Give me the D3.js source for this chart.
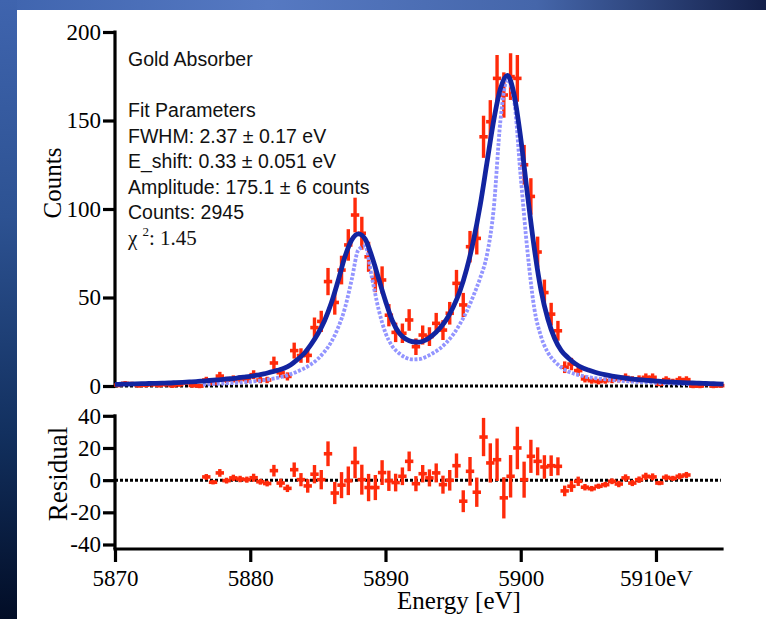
<!DOCTYPE html>
<html><head><meta charset="utf-8">
<script src="https://cdn.jsdelivr.net/npm/d3@7"></script>
<style>html,body{margin:0;padding:0;background:#fff;overflow:hidden} svg{display:block}
.tick text{font-family:'Liberation Serif','Times New Roman',serif !important;}</style>
</head><body><svg id="c" width="766" height="619"></svg>
<script>
// ---------- DATA ----------
const energy = [5870.25,5870.75,5871.25,5871.75,5872.25,5872.75,5873.25,5873.75,5874.25,5874.75,
5875.25,5875.75,5876.25,5876.75,5877.25,5877.75,5878.25,5878.75,5879.25,5879.75,
5880.25,5880.75,5881.25,5881.75,5882.25,5882.75,5883.25,5883.75,5884.25,5884.75,
5885.25,5885.75,5886.25,5886.75,5887.25,5887.75,5888.25,5888.75,5889.25,5889.75,
5890.25,5890.75,5891.25,5891.75,5892.25,5892.75,5893.25,5893.75,5894.25,5894.75,
5895.25,5895.75,5896.25,5896.75,5897.25,5897.75,5898.25,5898.75,5899.25,5899.75,
5900.25,5900.75,5901.25,5901.75,5902.25,5902.75,5903.25,5903.75,5904.25,5904.75,
5905.25,5905.75,5906.25,5906.75,5907.25,5907.75,5908.25,5908.75,5909.25,5909.75,
5910.25,5910.75,5911.25,5911.75,5912.25,5912.75,5913.25,5913.75,5914.25,5914.75];

const counts = [0.5,1.5,1.2,0.3,0.5,0.9,0.4,0.9,0.2,0.8,
2.0,0.3,0.0,3.4,1.5,5.6,3.4,4.0,4.0,3.6,
6.4,3.4,3.4,13.0,7.5,5.4,20.0,17.2,17.3,33.0,
36.5,59.0,47.2,65.5,79.7,96.6,86.3,73.0,60.8,59.9,
40.0,30.3,29.8,37.3,22.2,28.8,27.9,35.4,31.6,41.1,
58.0,45.8,78.7,83.4,140.8,149.3,173.8,164.4,174.8,173.8,
125.0,107.1,75.7,52.8,40.6,31.2,10.6,12.4,8.7,4.0,
3.0,2.5,3.0,3.4,4.0,4.9,3.6,4.0,4.9,4.9,
1.1,3.6,2.5,3.6,3.6,0.0,0.0,1.1,0.0,0.2];

const errors = [0.7,1.2,1.1,0.6,0.7,0.9,0.6,0.9,0.5,0.9,
1.4,0.6,0.5,1.8,1.2,2.4,1.8,2.0,2.0,1.9,
2.5,1.8,1.8,3.6,2.7,2.3,4.5,4.1,4.2,5.7,
6.0,7.7,6.9,8.1,8.9,9.8,9.3,8.5,7.8,7.7,
6.3,5.5,5.5,6.1,4.7,5.4,5.3,5.9,5.6,6.4,
7.6,6.8,8.9,9.1,11.9,12.2,13.2,12.8,13.2,13.2,
11.2,10.3,8.7,7.3,6.4,5.6,3.3,3.5,2.9,2.0,
1.7,1.6,1.7,1.8,2.0,2.2,1.9,2.0,2.2,2.2,
1.0,1.9,1.6,1.9,1.9,0.5,0.5,1.0,0.5,0.5];

// residuals for bins 5876.75 ... 5912.25
const residual = [2.0,-1.3,4.5,-0.3,1.4,0.7,0.3,
1.5,-1.0,-2.1,5.9,-1.8,-5.1,6.5,0.3,-3.6,3.7,
0.3,16.4,-8.0,-3.1,-0.4,11.0,0.3,-4.6,-4.6,4.7,
-0.4,-1.5,2.4,11.7,-2.2,4.0,1.4,4.5,-2.8,-0.1,
9.0,-13.1,5.5,-7.5,26.8,10.7,12.7,-11.0,2.4,20.0,
0.3,14.8,11.7,8.2,9.0,8.6,-6.7,-3.8,-0.7,-4.4,
-5.3,-3.8,-2.8,-0.7,-2.4,1.4,-1.8,0.3,2.4,2.0,
-1.8,1.7,1.1,2.4,3.2];
const residualFirst = 13; // index into energy of first residual bin

const fitEnergy = [5870,5870.5,5871,5871.5,5872,5872.5,5873,5873.5,5874,5874.5,
5875,5875.5,5876,5876.5,5877,5877.5,5878,5878.5,5879,5879.5,
5880,5880.5,5881,5881.5,5882,5882.5,5883,5883.5,5884,5884.5,
5885,5885.5,5886,5886.5,5887,5887.5,5888,5888.5,5889,5889.5,
5890,5890.5,5891,5891.5,5892,5892.5,5893,5893.5,5894,5894.5,
5895,5895.5,5896,5896.5,5897,5897.5,5898,5898.5,5899,5899.5,
5900,5900.5,5901,5901.5,5902,5902.5,5903,5903.5,5904,5904.5,
5905,5905.5,5906,5906.5,5907,5907.5,5908,5908.5,5909,5909.5,
5910,5910.5,5911,5911.5,5912,5912.5,5913,5913.5,5914,5914.5,5915];
const fitCounts = [0.9,1.0,1.1,1.2,1.3,1.4,1.5,1.6,1.7,1.9,
2.1,2.3,2.5,2.8,3.1,3.4,3.7,4.1,4.5,5.0,
5.5,6.1,6.8,7.8,8.8,10.0,12.0,15.0,18.5,23.5,
29.5,37.0,47.0,59.5,73.0,82.5,86.0,83.0,73.0,60.5,
48.0,37.0,30.0,26.5,25.0,24.8,26.0,28.7,32.5,37.5,
44.5,53.5,66.0,82.0,102.0,126.0,150.0,168.0,175.5,165.0,
140.0,108.0,78.0,54.0,38.0,27.0,20.0,16.0,12.8,10.5,
9.0,7.8,6.8,6.0,5.3,4.7,4.2,3.8,3.4,3.1,
2.8,2.5,2.3,2.1,1.9,1.75,1.6,1.45,1.35,1.2,1.1];

const modelEnergy = [5876.5,5877,5877.5,5878,5878.5,5879,5879.5,
5880,5880.5,5881,5881.5,5882,5882.5,5883,5883.5,5884,5884.5,
5885,5885.5,5886,5886.5,5887,5887.5,5888,5888.5,5889,5889.5,
5890,5890.5,5891,5891.5,5892,5892.5,5893,5893.5,5894,5894.5,
5895,5895.5,5896,5896.5,5897,5897.5,5898,5898.5,5899,5899.5,
5900,5900.5,5901,5901.5,5902,5902.5,5903,5903.5,5904,5904.5,
5905,5905.5,5906,5906.5,5907,5907.5,5908,5908.5,5909,5909.5,
5910,5910.5,5911,5911.5,5912,5912.5];
const modelCounts = [0.8,1.0,1.2,1.4,1.6,1.8,2.1,
2.4,2.8,3.3,3.9,4.6,5.5,6.7,8.2,10.0,12.3,
15.3,19.5,25.0,33.0,44.0,60.0,77.0,79.0,61.0,43.0,
30.0,22.5,18.5,16.0,15.0,15.2,16.5,18.5,21.0,24.5,
29.0,35.0,42.0,51.0,61.0,74.0,100.0,150.0,173.0,162.0,
118.0,76.0,44.0,28.0,19.0,14.0,10.5,8.2,6.8,5.8,
5.0,4.4,4.0,3.6,3.2,2.9,2.6,2.4,2.2,2.0,
1.8,1.6,1.5,1.3,1.2,1.1];

const countTicks = [0,50,100,150,200];
const residualTicks = [-40,-20,0,20,40];
const residualTickLabels = ["-40","-20","0","20","40"];
const energyTicks = [5870,5880,5890,5900,5910];
const energyTickLabels = ["5870","5880","5890","5900","5910eV"];
const annotationLines = ["Gold Absorber","","Fit Parameters","FWHM: 2.37 \u00b1 0.17 eV",
  "E_shift: 0.33 \u00b1 0.051 eV","Amplitude: 175.1 \u00b1 6 counts","Counts: 2945"];
const chiSquare = "1.45";

// ---------- DRAW ----------
const svg = d3.select("#c");
const defs = svg.append("defs");
const gTop = defs.append("linearGradient").attr("id","gtop").attr("x1","0").attr("x2","1").attr("y1","0").attr("y2","0");
[["0","#3f64ae"],["0.35","#5679c2"],["0.7","#4566aa"],["1","#14204a"]].forEach(s=>gTop.append("stop").attr("offset",s[0]).attr("stop-color",s[1]));
const gLeft = defs.append("linearGradient").attr("id","gleft").attr("x1","0").attr("x2","0").attr("y1","0").attr("y2","1");
[["0","#3f64ae"],["0.35","#2d5292"],["0.7","#12305f"],["1","#020d26"]].forEach(s=>gLeft.append("stop").attr("offset",s[0]).attr("stop-color",s[1]));

svg.append("rect").attr("x",0).attr("y",0).attr("width",766).attr("height",619).attr("fill","#fff");
svg.append("rect").attr("x",0).attr("y",0).attr("width",766).attr("height",10).attr("fill","url(#gtop)");
svg.append("rect").attr("x",0).attr("y",0).attr("width",17).attr("height",619).attr("fill","url(#gleft)");

const x = d3.scaleLinear().domain([5870,5915]).range([115,723.6]);
const yC = d3.scaleLinear().domain([0,200]).range([386,32]);
const yR = d3.scaleLinear().domain([-40,40]).range([544.5,415.8]);

const SERIF = "'Liberation Serif','Times New Roman',serif";
const SANS = "'Liberation Sans',Arial,sans-serif";
const RED = "#ff2a0a";

// zero dotted lines
svg.append("line").attr("x1",x(5870)).attr("x2",x(5915)).attr("y1",yC(0)).attr("y2",yC(0))
  .attr("stroke","#000").attr("stroke-width",3).attr("stroke-dasharray","3,2");
svg.append("line").attr("x1",x(5870)).attr("x2",x(5914.8)).attr("y1",yR(0)).attr("y2",yR(0))
  .attr("stroke","#000").attr("stroke-width",3).attr("stroke-dasharray","3,2");

// axes - top y
const axT = svg.append("g").attr("transform",`translate(${x(5870)},0)`)
  .call(d3.axisLeft(yC).tickValues(countTicks).tickSize(12).tickPadding(2).tickSizeOuter(0));
axT.select(".domain").remove();
svg.append("line").attr("x1",x(5870)).attr("x2",x(5870)).attr("y1",yC(200)-1.5).attr("y2",yC(0)+1.5)
  .attr("stroke","#000").attr("stroke-width",3.2);

// residual y
const axR = svg.append("g").attr("transform",`translate(${x(5870)},0)`)
  .call(d3.axisLeft(yR).tickValues(residualTicks).tickSize(12).tickPadding(2).tickSizeOuter(0)
        .tickFormat((d,i)=>residualTickLabels[i]));
axR.select(".domain").remove();
svg.append("line").attr("x1",x(5870)).attr("x2",x(5870)).attr("y1",yR(40)-1.5).attr("y2",549)
  .attr("stroke","#000").attr("stroke-width",3.2);

// x axis
const axX = svg.append("g").attr("transform","translate(0,549)")
  .call(d3.axisBottom(x).tickValues(energyTicks).tickSize(13).tickPadding(8).tickSizeOuter(0)
        .tickFormat((d,i)=>energyTickLabels[i]));
axX.select(".domain").remove();
svg.append("line").attr("x1",x(5870)-1.6).attr("x2",x(5915)).attr("y1",549).attr("y2",549)
  .attr("stroke","#000").attr("stroke-width",3.2);

[axT,axR,axX].forEach(a=>{
  a.attr("font-family",SERIF).attr("font-size",23);
  a.selectAll(".tick line").attr("stroke","#000").attr("stroke-width",3.2);
  a.selectAll(".tick text").attr("fill","#000").attr("font-family",SERIF).attr("font-size",23);
});

// axis titles
svg.append("text").attr("transform","translate(61,183) rotate(-90)").attr("text-anchor","middle")
  .attr("font-family",SERIF).attr("font-size",25).attr("fill","#000").text("Counts");
svg.append("text").attr("transform","translate(67,474) rotate(-90)").attr("text-anchor","middle")
  .attr("font-family",SERIF).attr("font-size",27).attr("fill","#000").text("Residual");
svg.append("text").attr("x",459).attr("y",609).attr("text-anchor","middle")
  .attr("font-family",SERIF).attr("font-size",25).attr("fill","#000").text("Energy [eV]");

// data points
function drawPoints(g, data, ys){
  g.selectAll("line.v").data(data).join("line").attr("class","v")
    .attr("x1",d=>x(d.e)).attr("x2",d=>x(d.e))
    .attr("y1",d=>Math.min(ys(d.c+d.s), ys(d.c)-2.2))
    .attr("y2",d=>Math.max(ys(d.c-d.s), ys(d.c)+2.2))
    .attr("stroke",RED).attr("stroke-width",3.4);
  g.selectAll("line.h").data(data).join("line").attr("class","h")
    .attr("x1",d=>x(d.e)-4.2).attr("x2",d=>x(d.e)+4.2)
    .attr("y1",d=>ys(d.c)).attr("y2",d=>ys(d.c))
    .attr("stroke",RED).attr("stroke-width",3.6);
}
const pts = energy.map((e,i)=>({e, c:counts[i], s:errors[i]}));
drawPoints(svg.append("g"), pts, yC);
const rpts = residual.map((r,i)=>({e:energy[i+residualFirst], c:r, s:errors[i+residualFirst]}));
drawPoints(svg.append("g"), rpts, yR);

// model (light dotted) curve
const line = d3.line().curve(d3.curveMonotoneX);
svg.append("path")
  .attr("d", line(modelEnergy.map((e,i)=>[x(e), yC(modelCounts[i])])))
  .attr("fill","none").attr("stroke","#9395ff").attr("stroke-width",3.8).attr("stroke-dasharray","3,1.6");

// fit curve
svg.append("path")
  .attr("d", line(fitEnergy.map((e,i)=>[x(e), yC(fitCounts[i])])))
  .attr("fill","none").attr("stroke","#1224a0").attr("stroke-width",4.8).attr("stroke-linejoin","round");

// annotation
const ann = svg.append("g").attr("font-family",SANS).attr("font-size",19.5).attr("fill","#111");
const base = [66,91.5,117,142.5,168,193.5,219];
annotationLines.forEach((t,i)=>{ if(t) ann.append("text").attr("x",128).attr("y",base[i]).text(t); });
const chi = svg.append("text").attr("x",128).attr("y",244.5).attr("font-family",SERIF).attr("font-size",21).attr("fill","#111");
chi.append("tspan").text("\u03c7");
chi.append("tspan").attr("x",142.5).attr("dy",-9).attr("font-size",13).text("2");
chi.append("tspan").attr("x",149).attr("dy",9).text(": " + chiSquare);
</script>
</body></html>
